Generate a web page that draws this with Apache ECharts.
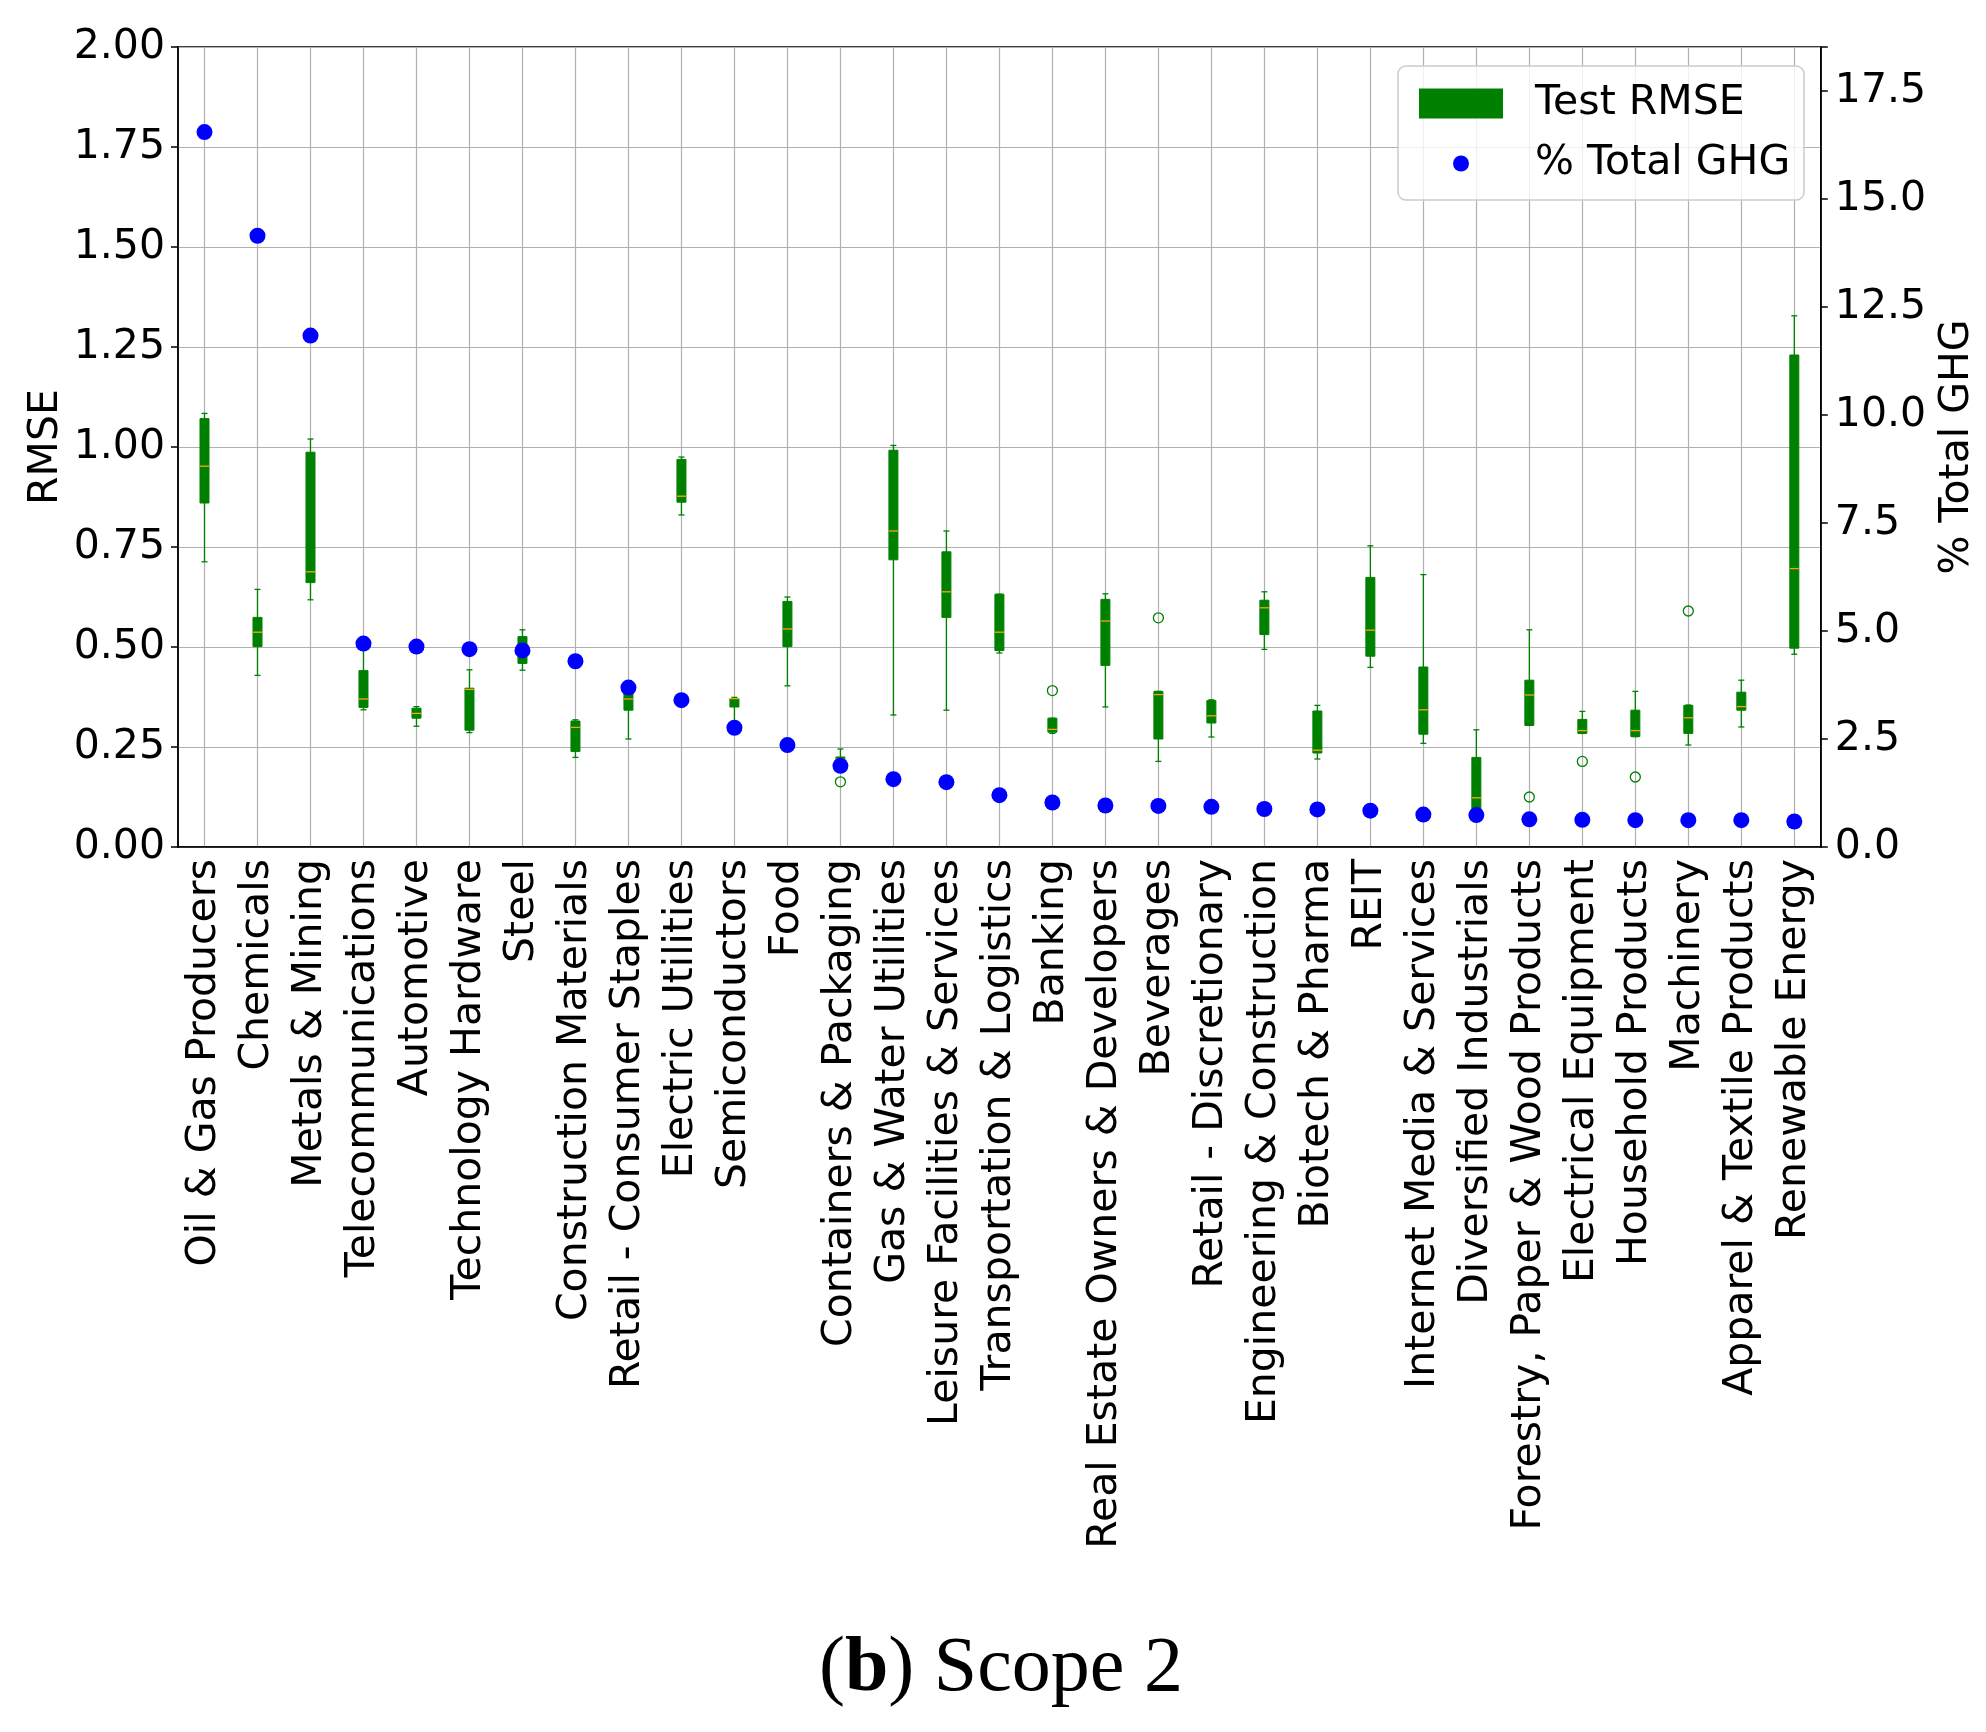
<!DOCTYPE html>
<html><head><meta charset="utf-8">
<script src="https://cdn.jsdelivr.net/npm/echarts@6/dist/echarts.min.js"></script>
<style>html,body{margin:0;padding:0;background:#fff}#c{width:1986px;height:1732px}</style>
</head><body><div id="c"></div>
<script>
const categories = ["Oil & Gas Producers","Chemicals","Metals & Mining","Telecommunications","Automotive","Technology Hardware","Steel","Construction Materials","Retail - Consumer Staples","Electric Utilities","Semiconductors","Food","Containers & Packaging","Gas & Water Utilities","Leisure Facilities & Services","Transportation & Logistics","Banking","Real Estate Owners & Developers","Beverages","Retail - Discretionary","Engineering & Construction","Biotech & Pharma","REIT","Internet Media & Services","Diversified Industrials","Forestry, Paper & Wood Products","Electrical Equipment","Household Products","Machinery","Apparel & Textile Products","Renewable Energy"];
const rmseLow    = [0.713,0.429,0.618,0.343,0.302,0.286,0.442,0.224,0.270,0.830,0.310,0.403,0.190,0.330,0.342,0.485,0.284,0.350,0.214,0.275,0.494,0.220,0.449,0.259,0.075,0.304,0.284,0.276,0.255,0.300,0.482];
const rmseQ1     = [0.860,0.501,0.661,0.349,0.322,0.292,0.459,0.239,0.342,0.862,0.350,0.501,0.200,0.718,0.574,0.491,0.287,0.454,0.270,0.310,0.531,0.235,0.477,0.282,0.085,0.304,0.284,0.276,0.284,0.342,0.497];
const rmseMedian = [0.952,0.537,0.688,0.370,0.334,0.394,0.490,0.299,0.370,0.877,0.371,0.545,0.220,0.790,0.638,0.537,0.294,0.565,0.381,0.328,0.598,0.242,0.542,0.343,0.123,0.380,0.291,0.291,0.323,0.351,0.696];
const rmseQ3     = [1.071,0.574,0.987,0.441,0.347,0.397,0.526,0.315,0.385,0.969,0.371,0.614,0.225,0.992,0.738,0.632,0.322,0.619,0.389,0.366,0.617,0.340,0.674,0.450,0.224,0.417,0.319,0.342,0.354,0.387,1.230];
const rmseHigh   = [1.084,0.644,1.020,0.500,0.351,0.443,0.543,0.318,0.395,0.975,0.374,0.625,0.245,1.004,0.790,0.632,0.322,0.633,0.389,0.368,0.638,0.354,0.753,0.681,0.293,0.543,0.339,0.389,0.355,0.417,1.328];
const outlierCats = [12,16,18,25,26,27,28];
const outlierVals = [0.163,0.391,0.573,0.125,0.214,0.175,0.590];
const ghgShare = [16.55,14.15,11.84,4.71,4.64,4.58,4.55,4.30,3.69,3.40,2.76,2.36,1.88,1.57,1.50,1.20,1.03,0.96,0.95,0.93,0.88,0.87,0.84,0.75,0.74,0.64,0.63,0.62,0.62,0.62,0.59];

const FONT = 'DejaVu Sans';
const chart = echarts.init(document.getElementById('c'), null, {renderer:'canvas'});
const boxData = categories.map((c,i)=>[i, rmseLow[i], rmseQ1[i], rmseMedian[i], rmseQ3[i], rmseHigh[i]]);

chart.setOption({
  animation:false,
  backgroundColor:'#fff',
  title:{
    text:'{n|(}{b|b}{n|) Scope 2}',
    left:814, top:1626,
    textStyle:{fontWeight:'normal', fontFamily:'Liberation Serif', fontSize:78, color:'#000', rich:{
      n:{fontFamily:'Liberation Serif', fontSize:78, fontWeight:'normal', color:'#000'},
      b:{fontFamily:'Liberation Serif', fontSize:78, fontWeight:'bold', color:'#000'}
    }}
  },
  grid:{left:178, right:162, top:47, bottom:885, show:true, borderColor:'#000', borderWidth:1.5, backgroundColor:'transparent'},
  graphic:[{type:'rect', z:3, shape:{x:1398, y:66, width:406, height:134, r:8}, style:{fill:'rgba(255,255,255,0.8)', stroke:'#cccccc', lineWidth:1.5}}],
  legend:[
    {data:[{name:'Test RMSE', icon:'rect'}], left:1414, top:78, itemWidth:84, itemHeight:30, selectedMode:false, z:5,
     textStyle:{fontSize:41, color:'#000', fontFamily:FONT, padding:[0,0,0,27]}},
    {data:[{name:'% Total GHG', icon:'circle'}], left:1448, top:138, itemWidth:16, itemHeight:16, selectedMode:false, z:5,
     textStyle:{fontSize:41, color:'#000', fontFamily:FONT, padding:[0,0,0,61]}}
  ],
  xAxis:{
    type:'category', data:categories, boundaryGap:true,
    axisLine:{lineStyle:{color:'#000', width:1.5}},
    axisTick:{alignWithLabel:true, length:7, lineStyle:{color:'#000', width:1.5}},
    axisLabel:{rotate:90, interval:0, fontSize:41, fontFamily:FONT, color:'#000', margin:12},
    splitLine:{show:true, alignWithLabel:true, lineStyle:{color:'#b0b0b0', width:1.2}}
  },
  yAxis:[
    {type:'value', min:0, max:2, interval:0.25, position:'left',
     name:'RMSE', nameLocation:'middle', nameRotate:90, nameGap:111, nameMoveOverlap:false,
     nameTextStyle:{fontSize:41, fontFamily:FONT, color:'#000'},
     axisLine:{show:true, lineStyle:{color:'#000', width:1.5}},
     axisTick:{show:true, length:7, lineStyle:{color:'#000', width:1.5}},
     axisLabel:{formatter:v=>v.toFixed(2), fontSize:41, fontFamily:FONT, color:'#000', margin:13},
     splitLine:{show:true, lineStyle:{color:'#b0b0b0', width:1.2}}},
    {type:'value', min:0, max:18.52, interval:2.5, position:'right',
     name:'% Total GHG', nameLocation:'middle', nameRotate:90, nameGap:103,
     nameTextStyle:{fontSize:41, fontFamily:FONT, color:'#000'},
     axisLine:{show:true, lineStyle:{color:'#000', width:1.5}},
     axisTick:{show:true, length:7, lineStyle:{color:'#000', width:1.5}},
     axisLabel:{formatter:v=>(Math.abs(v/2.5-Math.round(v/2.5))<1e-6 ? v.toFixed(1) : ''), fontSize:41, fontFamily:FONT, color:'#000', margin:14},
     splitLine:{show:false}}
  ],
  series:[
    {type:'custom', name:'Test RMSE', xAxisIndex:0, yAxisIndex:0, z:2,
     itemStyle:{color:'#008000'},
     encode:{x:0, y:[1,2,3,4,5]},
     data:boxData,
     renderItem:function(params, api){
       const i = api.value(0);
       const lo = api.coord([i, api.value(1)]);
       const q1 = api.coord([i, api.value(2)]);
       const md = api.coord([i, api.value(3)]);
       const q3 = api.coord([i, api.value(4)]);
       const hi = api.coord([i, api.value(5)]);
       const x = lo[0], bw = 9, cw = 6;
       const g = '#008000';
       return {type:'group', children:[
         {type:'line', shape:{x1:x, y1:hi[1], x2:x, y2:lo[1]}, style:{stroke:g, lineWidth:1.3}},
         {type:'line', shape:{x1:x-cw/2, y1:hi[1], x2:x+cw/2, y2:hi[1]}, style:{stroke:g, lineWidth:1.3}},
         {type:'line', shape:{x1:x-cw/2, y1:lo[1], x2:x+cw/2, y2:lo[1]}, style:{stroke:g, lineWidth:1.3}},
         {type:'rect', shape:{x:x-bw/2, y:q3[1], width:bw, height:Math.max(1, q1[1]-q3[1])}, style:{fill:g, stroke:g, lineWidth:1}},
         {type:'line', shape:{x1:x-bw/2, y1:md[1], x2:x+bw/2, y2:md[1]}, style:{stroke:'#ffa500', lineWidth:1.3}}
       ]};
     }},
    {type:'scatter', name:'outliers', xAxisIndex:0, yAxisIndex:0, z:3,
     symbol:'circle', symbolSize:10,
     itemStyle:{color:'rgba(0,0,0,0)', borderColor:'#008000', borderWidth:1.3, opacity:1},
     data:outlierCats.map((c,i)=>[c, outlierVals[i]])},
    {type:'scatter', name:'% Total GHG', xAxisIndex:0, yAxisIndex:1, z:4,
     symbol:'circle', symbolSize:16,
     itemStyle:{color:'#0000ff', opacity:1},
     data:ghgShare.map((v,i)=>[i, v])}
  ]
});
</script></body></html>
